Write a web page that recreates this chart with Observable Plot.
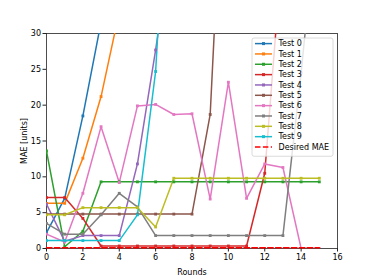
<!DOCTYPE html>
<html>
<head>
<meta charset="utf-8">
<script src="https://cdn.jsdelivr.net/npm/d3@7"></script>
<script src="https://cdn.jsdelivr.net/npm/@observablehq/plot@0.6"></script>
<style>
  html, body { margin: 0; padding: 0; background: #fff; }
  #wrap { position: relative; width: 374px; height: 280px; font-family: "DejaVu Sans", sans-serif; }
  #legend { position: absolute; }
</style>
</head>
<body>
<div id="wrap"></div>
<script>
// ---- data ----
const seriesNames = ["Test 0","Test 1","Test 2","Test 3","Test 4","Test 5","Test 6","Test 7","Test 8","Test 9"];
const seriesColors = ["#1f77b4","#ff7f0e","#2ca02c","#d62728","#9467bd","#8c564b","#e377c2","#7f7f7f","#bcbd22","#17becf"];
const test0 = [2.2, 7.0, 18.5, 31.6];
const test1 = [6.3, 6.3, 12.6, 21.2, 33.0];
const test2 = [13.6, 0.25, 2.4, 9.3, 9.3, 9.3, 9.3, 9.3, 9.3, 9.3, 9.3, 9.3, 9.3, 9.3, 9.3, 9.3];
const test3 = [7.1, 7.1, 4.2, 0.35, 0.35, 0.35, 0.35, 0.35, 0.35, 0.35, 0.35, 0.35, 10.5, 43.0];
const test4 = [6.2, 1.0, 1.8, 1.8, 1.8, 11.8, 27.7, 45.0];
const test5 = [4.8, 4.8, 4.8, 4.8, 4.8, 4.8, 4.8, 4.8, 4.8, 18.7, 70.0];
const test6 = [2.0, 0.9, 7.7, 17.0, 9.2, 19.9, 20.1, 18.7, 18.8, 6.9, 23.2, 7.0, 11.8, 11.3, 0.0, 0.0];
const test7 = [3.5, 2.0, 2.0, 4.7, 7.7, 5.8, 1.8, 1.8, 1.8, 1.8, 1.8, 1.8, 1.8, 1.8, 24.5, 50.0];
const test8 = [4.7, 4.7, 5.7, 5.7, 5.7, 5.7, 3.0, 9.8, 9.8, 9.8, 9.8, 9.8, 9.8, 9.8, 9.8, 9.8];
const test9 = [1.1, 1.1, 1.1, 1.1, 1.1, 4.7, 24.7, 69.0];
const desiredRounds = [0, 15];
const desiredMAE = 0.12;
const desiredLabel = "Desired MAE";
const xTicks = [0, 2, 4, 6, 8, 10, 12, 14, 16];
const yTicks = [0, 5, 10, 15, 20, 25, 30];

// ---- build table ----
const allTests = [test0, test1, test2, test3, test4, test5, test6, test7, test8, test9];
const rows = allTests.flatMap((vals, k) => vals.map((v, i) => ({round: i, mae: v, test: seriesNames[k]})));
const desiredRows = desiredRounds.map(r => ({round: r, mae: desiredMAE}));

const W = 374, H = 280;
const mL = 46, mR = 37, mT = 33, mB = 32;

const chart = Plot.plot({
  width: W, height: H,
  marginLeft: mL, marginRight: mR, marginTop: mT, marginBottom: mB,
  style: {fontFamily: "DejaVu Sans, sans-serif", fontSize: "8px", color: "#000", background: "#fff"},
  x: {domain: [0, 16]},
  y: {domain: [0, 30]},
  color: {domain: seriesNames, range: seriesColors},
  marks: [
    Plot.frame({stroke: "#222", strokeWidth: 0.8}),
    Plot.axisX({ticks: xTicks, tickSize: 3.5, tickPadding: 2, tickFormat: d => String(d),
      label: "Rounds", labelAnchor: "center", labelOffset: 26, labelArrow: "none", stroke: "#222"}),
    Plot.axisY({ticks: yTicks, tickSize: 3.5, tickPadding: 2, tickFormat: d => String(d),
      label: "MAE [units]", labelAnchor: "center", labelOffset: 25, labelArrow: "none", stroke: "#222"}),
    Plot.line(rows, {x: "round", y: "mae", z: "test", stroke: "test", strokeWidth: 1.5, clip: true}),
    Plot.dot(rows, {x: "round", y: "mae", fill: "test", stroke: null, symbol: "square", r: 1.6, clip: true}),
    Plot.line(desiredRows, {x: "round", y: "mae", stroke: "#ff0000", strokeWidth: 1.5, strokeDasharray: "5.5,2.4"})
  ]
});

const wrap = document.getElementById("wrap");
wrap.appendChild(chart);

// ---- legend overlay (upper right, inside axes) ----
const legendItems = seriesNames.map((n, k) => ({name: n, color: seriesColors[k], dashed: false}))
  .concat([{name: desiredLabel, color: "#ff0000", dashed: true}]);
const lgLeft = 252, lgTop = 37.5, lgW = 81, rowH = 10.34;
const lgH = 11 + legendItems.length * rowH - 6.5;
const lg = d3.select(wrap).append("svg")
  .attr("id", "legend")
  .attr("width", lgW + 2).attr("height", lgH + 2)
  .style("left", (lgLeft - 1) + "px").style("top", (lgTop - 1) + "px");
lg.append("rect").attr("x", 1).attr("y", 1).attr("width", lgW).attr("height", lgH)
  .attr("rx", 2).attr("fill", "rgba(255,255,255,0.8)").attr("stroke", "#d0d0d0").attr("stroke-width", 0.8);
const g = lg.selectAll("g.item").data(legendItems).join("g")
  .attr("transform", (d, i) => `translate(0,${6.6 + i * rowH})`);
g.append("line").attr("x1", 4).attr("x2", 21).attr("y1", 0).attr("y2", 0)
  .attr("stroke", d => d.color).attr("stroke-width", 1.5)
  .attr("stroke-dasharray", d => d.dashed ? "5.5,2.4" : null);
g.filter(d => !d.dashed).append("rect").attr("x", 12.5 - 1.5).attr("y", -1.5).attr("width", 3).attr("height", 3)
  .attr("fill", d => d.color);
g.append("text").attr("x", 27.5).attr("y", 0).attr("dy", "0.35em")
  .attr("font-family", "DejaVu Sans, sans-serif").attr("font-size", 8).attr("fill", "#000")
  .text(d => d.name);
</script>
</body>
</html>
